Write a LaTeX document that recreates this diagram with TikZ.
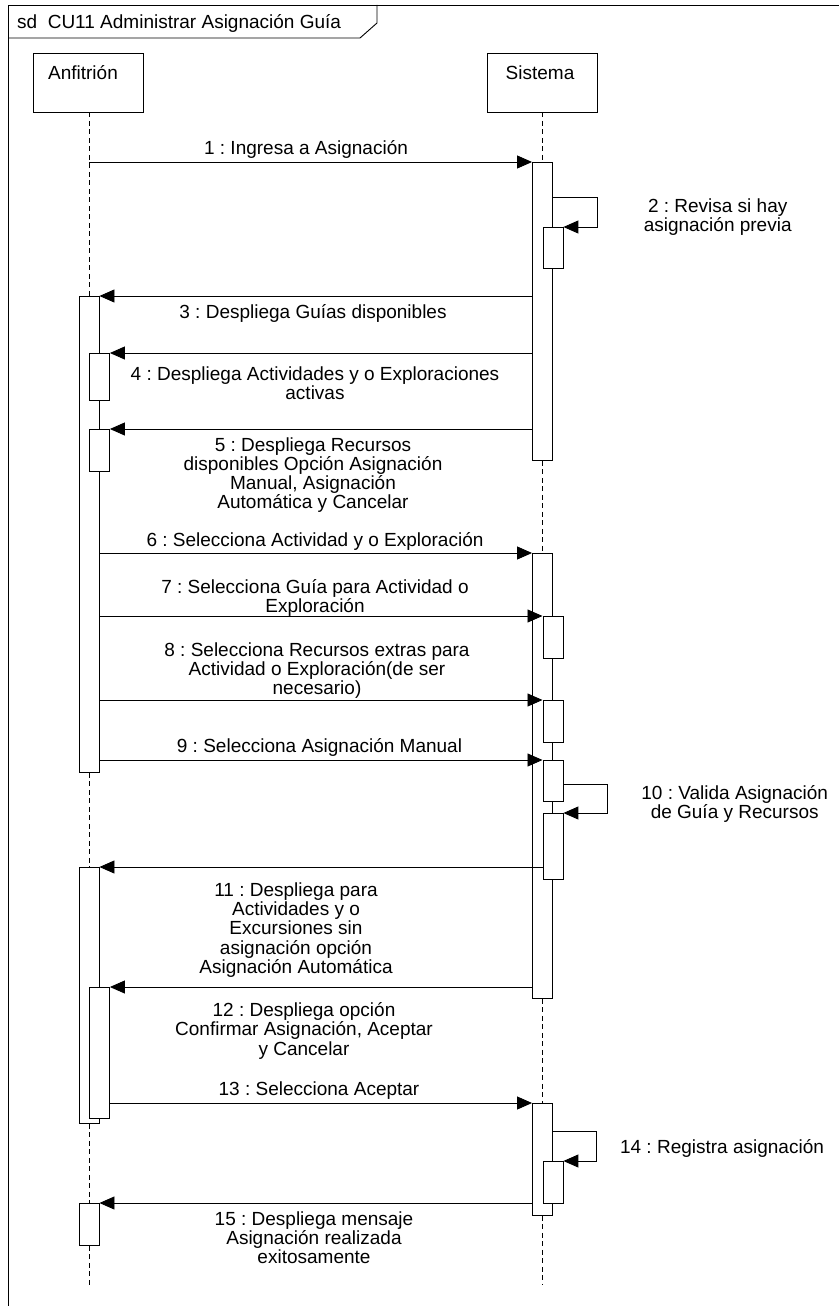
\documentclass[tikz,border=0pt]{standalone}
\usepackage{fontspec}
\setmainfont{Liberation Sans}
\usetikzlibrary{arrows.meta}
\frenchspacing
\tikzset{
  base/.style={line width=0.9pt},
  lbox/.style={base, draw, fill=white, minimum width=110pt, minimum height=59pt, inner sep=0pt},
  act/.style={base, draw, fill=white, minimum width=20pt, inner sep=0pt, anchor=north},
  lifeline/.style={base, dash pattern=on 5pt off 3.5pt},
  msg/.style={base, -{Triangle[length=15pt,width=13pt]}},
  txt/.style={font=\fontsize{19}{19.2}\selectfont, inner sep=0pt},
  lbl/.style={txt, align=center, anchor=north, yshift=13.44pt, execute at begin node=\strut},
}
\begin{document}
\begin{tikzpicture}[x=1pt, y=-1pt]
\useasboundingbox (0,0) rectangle (838,1306);
\fill[white] (0,0) rectangle (838,1306);
% frame
\draw[base] (8,5) rectangle (870,1340);
\draw[base] (8,38) -- (360,38) -- (377,23) -- (377,5);
\node[txt, anchor=base west] (title) at (17,29) {sd\ \ CU11 Administrar Asignación Guía};
% lifeline heads
\node[lbox] (A) at (88.5,82.5) {};
\node[txt, anchor=base] (Atxt) at (83,80) {Anfitrión};
\node[lbox] (S) at (542,82.5) {};
\node[txt, anchor=base] (Stxt) at (540,80) {Sistema};
\coordinate (aend) at (89,1285);
\coordinate (send) at (542.5,1285);
% Anfitrion activations
\node[act, minimum height=476pt] (aa1) at (89,296) {};
\node[act, minimum height=47pt, anchor=north west] (an1) at (89,353) {};
\node[act, minimum height=42pt, anchor=north west] (an2) at (89,429) {};
\node[act, minimum height=256pt] (aa2) at (89,867) {};
\node[act, minimum height=131pt, anchor=north west] (an3) at (89,987) {};
\node[act, minimum height=42pt] (aa3) at (89,1203) {};
% Sistema activations
\node[act, minimum height=298pt] (sa1) at (542.5,162) {};
\node[act, minimum height=41pt, anchor=north west] (sn1) at (542.5,227) {};
\node[act, minimum height=445pt] (sa2) at (542.5,553) {};
\node[act, minimum height=42pt, anchor=north west] (sn2) at (542.5,616) {};
\node[act, minimum height=42pt, anchor=north west] (sn3) at (542.5,700) {};
\node[act, minimum height=41pt, anchor=north west] (sn4) at (542.5,760) {};
\node[act, minimum height=66pt, anchor=north west] (sn5) at (542.5,813) {};
\node[act, minimum height=112pt] (sa3) at (542.5,1103) {};
\node[act, minimum height=42pt, anchor=north west] (sn6) at (542.5,1161) {};
% lifelines
\draw[lifeline] (aa1.north |- A.south) -- (aa1.north);
\draw[lifeline] (aa1.south) -- (aa2.north);
\draw[lifeline] (aa2.south) -- (aa3.north);
\draw[lifeline] (aa3.south) -- (aend);
\draw[lifeline] (sa1.north |- S.south) -- (sa1.north);
\draw[lifeline] (sa1.south) -- (sa2.north);
\draw[lifeline] (sa2.south) -- (sa3.north);
\draw[lifeline] (sa3.south) -- (send);
% self-message corners
\coordinate (s2r) at (597,197);
\coordinate (s10r) at (607,784);
\coordinate (s14r) at (596,1131);
% messages
\draw[msg] (aa1.north |- sa1.north) -- (sa1.north west);
\draw[msg] (sa1.east |- s2r) -- (s2r) |- (sn1.north east);
\draw[msg] (sa1.west |- aa1.north) -- (aa1.north east);
\draw[msg] (sa1.west |- an1.north) -- (an1.north east);
\draw[msg] (sa1.west |- an2.north) -- (an2.north east);
\draw[msg] (aa1.east |- sa2.north) -- (sa2.north west);
\draw[msg] (aa1.east |- sn2.north) -- (sn2.north west);
\draw[msg] (aa1.east |- sn3.north) -- (sn3.north west);
\draw[msg] (aa1.east |- sn4.north) -- (sn4.north west);
\draw[msg] (sn4.east |- s10r) -- (s10r) |- (sn5.north east);
\draw[msg] (sn5.west |- aa2.north) -- (aa2.north east);
\draw[msg] (sa2.west |- an3.north) -- (an3.north east);
\draw[msg] (an3.east |- sa3.north) -- (sa3.north west);
\draw[msg] (sa3.east |- s14r) -- (s14r) |- (sn6.north east);
\draw[msg] (sa3.west |- aa3.north) -- (aa3.north east);
% labels
\node[lbl] (l1) at (306,154) {1 : Ingresa a Asignación};
\node[lbl] (l2) at (717.7,212) {2 : Revisa si hay\\asignación previa};
\node[lbl] (l3) at (313,318) {3 : Despliega Guías disponibles};
\node[lbl] (l4) at (315,380) {4 : Despliega Actividades y o Exploraciones\\activas};
\node[lbl] (l5) at (313,450.7) {5 : Despliega Recursos\\disponibles Opción Asignación\\Manual, Asignación\\Automática y Cancelar};
\node[lbl] (l6) at (315,545.7) {6 : Selecciona Actividad y o Exploración};
\node[lbl] (l7) at (315,593) {7 : Selecciona Guía para Actividad o\\Exploración};
\node[lbl] (l8) at (317,655.7) {8 : Selecciona Recursos extras para\\Actividad o Exploración(de ser\\necesario)};
\node[lbl] (l9) at (319.5,751.7) {9 : Selecciona Asignación Manual};
\node[lbl] (l10) at (734.7,799) {10 : Valida Asignación\\de Guía y Recursos};
\node[lbl] (l11) at (296,896) {11 : Despliega para\\Actividades y o\\Excursiones sin\\asignación opción\\Asignación Automática};
\node[lbl] (l12) at (304,1016) {12 : Despliega opción\\Confirmar Asignación, Aceptar\\y Cancelar};
\node[lbl] (l13) at (319,1095) {13 : Selecciona Aceptar};
\node[lbl] (l14) at (722,1152.7) {14 : Registra asignación};
\node[lbl] (l15) at (314,1225) {15 : Despliega mensaje\\Asignación realizada\\exitosamente};
\end{tikzpicture}
\end{document}
